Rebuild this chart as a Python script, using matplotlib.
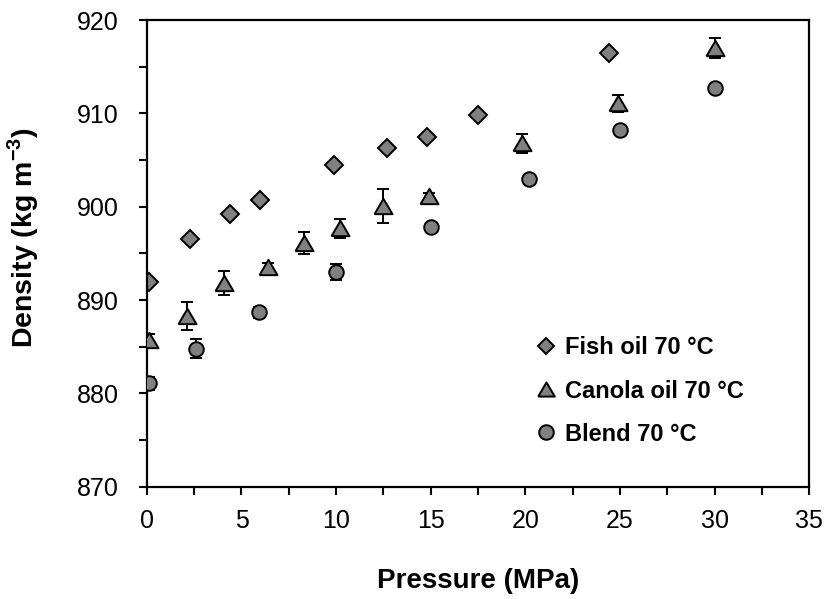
import matplotlib
matplotlib.use("Agg")
import matplotlib.pyplot as plt
from matplotlib.ticker import MultipleLocator
from matplotlib.lines import Line2D

plt.rcParams['font.family'] = ['Liberation Sans', 'DejaVu Sans']
plt.rcParams['mathtext.fontset'] = 'custom'
plt.rcParams['mathtext.rm'] = 'Liberation Sans'
plt.rcParams['mathtext.bf'] = 'Liberation Sans:bold'

# Fish oil 70 °C
fish_p = [0.1, 2.3, 4.4, 6.0, 9.9, 12.7, 14.8, 17.5, 24.4]
fish_d = [891.9, 896.5, 899.2, 900.7, 904.5, 906.3, 907.5, 909.8, 916.5]

# Canola oil 70 °C
canola_p = [0.1, 2.1, 4.1, 6.4, 8.3, 10.2, 12.5, 14.9, 19.8, 24.9, 30.0]
canola_d = [885.7, 888.3, 891.8, 893.5, 896.1, 897.7, 900.1, 901.1, 906.8, 911.1, 917.0]
canola_err = [0.7, 1.5, 1.3, 0.5, 1.2, 1.0, 1.8, 0.4, 1.0, 0.9, 1.1]

# Blend 70 °C
blend_p = [0.1, 2.6, 5.9, 10.0, 15.0, 20.2, 25.0, 30.0]
blend_d = [881.1, 884.8, 888.7, 893.0, 897.8, 903.0, 908.2, 912.7]
blend_err = [0.7, 1.0, 0.6, 0.9, 0.3, 0.3, 0.3, 0.3]

labels = ['Fish oil 70 °C', 'Canola oil 70 °C', 'Blend 70 °C']

fig = plt.figure(figsize=(8.25, 5.99), dpi=100)
ax = fig.add_axes([0.178, 0.1875, 0.803, 0.779])

gray = '#808080'
tri = [(-1.0, -0.85), (1.0, -0.85), (0.0, 0.85), (-1.0, -0.85)]
mstyle = dict(mfc=gray, mec='black', mew=1.4, ls='none')

ax.errorbar(fish_p, fish_d, fmt='D', ms=9, color='black', **mstyle)
ax.errorbar(canola_p, canola_d, yerr=canola_err, fmt='none', ecolor='black',
            elinewidth=1.4, capsize=4.5, capthick=1.4)
ax.errorbar(blend_p, blend_d, yerr=blend_err, fmt='none', ecolor='black',
            elinewidth=1.4, capsize=4.5, capthick=1.4)
ax.plot(canola_p, canola_d, marker=tri, ms=13, **mstyle, zorder=3)
ax.plot(blend_p, blend_d, marker='o', ms=10.5, **mstyle, zorder=3)

ax.set_xlim(0, 35)
ax.set_ylim(870, 920)
ax.xaxis.set_major_locator(MultipleLocator(5))
ax.xaxis.set_minor_locator(MultipleLocator(2.5))
ax.yaxis.set_major_locator(MultipleLocator(10))
ax.yaxis.set_minor_locator(MultipleLocator(5))
ax.tick_params(which='both', direction='out', length=6, width=1.5,
               labelsize=18, top=False, right=False)
ax.tick_params(axis='x', which='both', pad=10)
ax.tick_params(axis='y', which='both', pad=14)
for s in ax.spines.values():
    s.set_linewidth(1.6)

ax.set_xlabel('Pressure (MPa)', fontsize=20, fontweight='bold', labelpad=25)
ax.set_ylabel('Density (kg m$^{\\mathbf{-3}}$)', fontsize=20.5, fontweight='bold')
ax.yaxis.set_label_coords(-0.16, 0.534)

handles = [
    Line2D([], [], marker='D', ms=8.5, **mstyle),
    Line2D([], [], marker=tri, ms=12, **mstyle),
    Line2D([], [], marker='o', ms=10.5, **mstyle),
]
leg = ax.legend(handles, labels, loc='upper left', bbox_to_anchor=(0.585, 0.322),
                frameon=False, prop={'weight': 'bold', 'size': 17},
                handletextpad=0.3, labelspacing=0.85, handlelength=1.0,
                borderaxespad=0, borderpad=0)

fig.savefig('out.png', dpi=100)
